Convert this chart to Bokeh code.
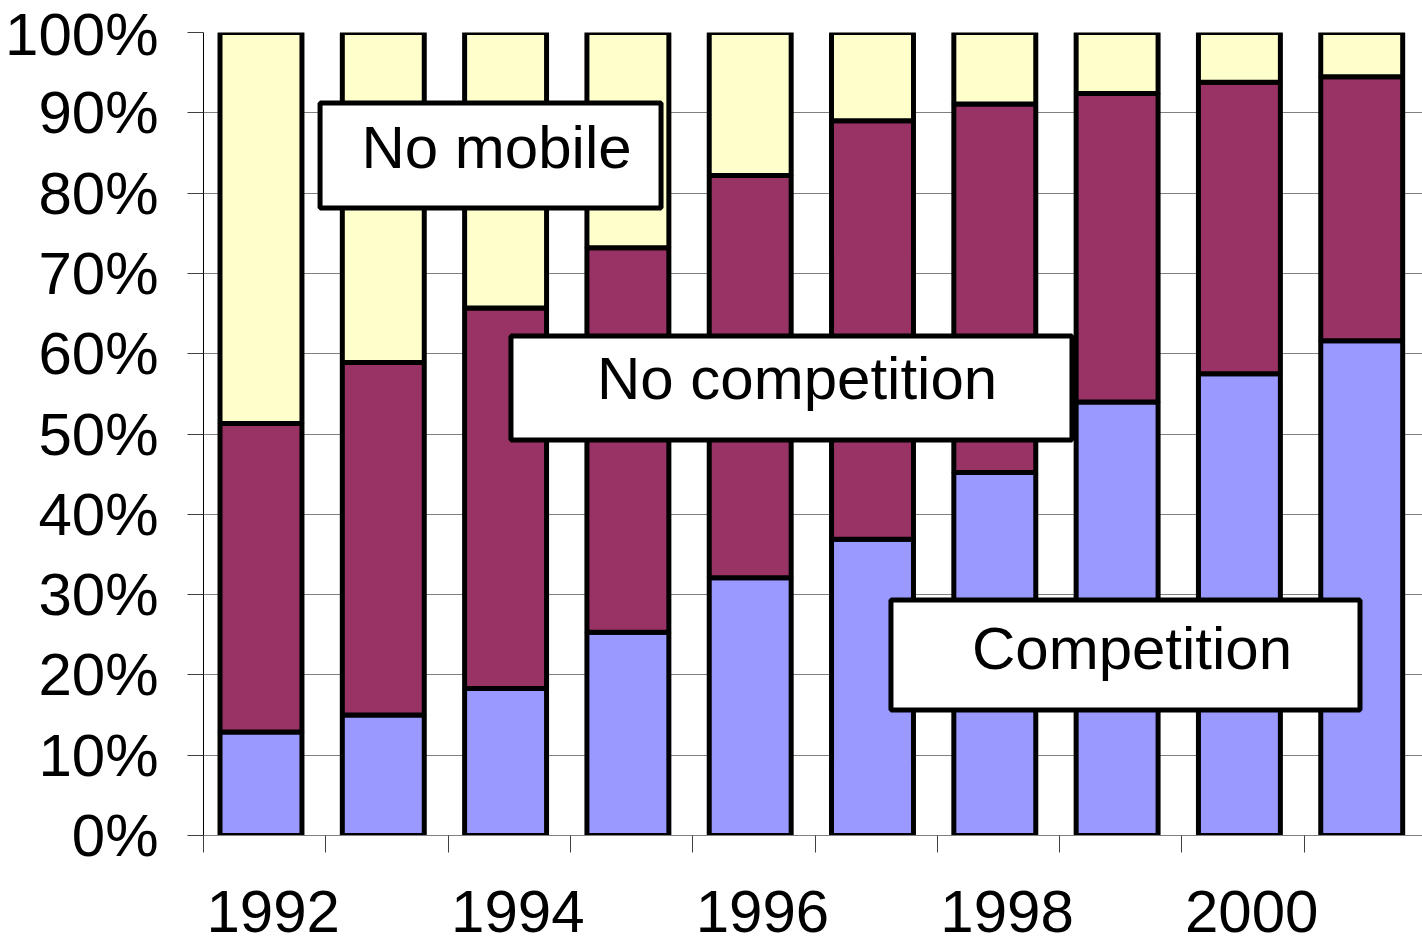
from bokeh.plotting import figure
from bokeh.models import (Range1d, FixedTicker, CustomJSTickFormatter, PrintfTickFormatter,
                          BoxAnnotation, Label, ColumnDataSource)
from bokeh.transform import dodge
from bokeh.embed import file_html
from bokeh.resources import INLINE

# ---- data ----
years = ["1992", "1993", "1994", "1995", "1996", "1997", "1998", "1999", "2000", "2001"]
competition = [12.9, 15.0, 18.3, 25.3, 32.1, 36.9, 45.2, 54.0, 57.5, 61.6]
no_competition = [38.4, 43.9, 47.4, 47.9, 50.1, 52.1, 45.9, 38.4, 36.3, 32.9]
no_mobile = [48.7, 41.1, 34.3, 26.8, 17.8, 11.0, 8.9, 7.6, 6.2, 5.5]
series = ["Competition", "No competition", "No mobile"]
colors = ["#9999FF", "#993366", "#FFFFCC"]
y_ticks = [0, 10, 20, 30, 40, 50, 60, 70, 80, 90, 100]
x_labels = ["1992", "1994", "1996", "1998", "2000"]

FONT = "Liberation Sans"
BAR_SHIFT = -0.03    # bars sit slightly left of the category centre
LABEL_SHIFT = 0.07   # year labels sit slightly right of the category centre

x = [i + 0.5 for i in range(len(years))]
source = ColumnDataSource(data={"x": x, "Competition": competition,
                                "No competition": no_competition, "No mobile": no_mobile})

p = figure(width=1422, height=948, output_backend="svg", toolbar_location=None,
           x_range=Range1d(0, 9.967), y_range=Range1d(0, 100),
           min_border_left=203, min_border_top=32, min_border_right=0, min_border_bottom=113)
p.outline_line_color = None
p.background_fill_color = "white"
p.border_fill_color = "white"

p.vbar_stack(series, x=dodge("x", BAR_SHIFT, range=p.x_range), width=0.67, source=source,
             fill_color=colors, line_color="black", line_width=5)

# x axis: boundary ticks as minor ticks, labels at even years
p.xaxis.ticker = FixedTicker(ticks=[x[i] + LABEL_SHIFT for i, y in enumerate(years) if y in x_labels],
                             minor_ticks=list(range(len(years) + 1)))
p.xaxis.formatter = CustomJSTickFormatter(args=dict(labels=years),
                                          code="return labels[Math.floor(tick)];")
p.xaxis.major_tick_line_color = None
p.xaxis.major_tick_out = 0
p.xaxis.major_tick_in = 0
p.xaxis.minor_tick_out = 17
p.xaxis.minor_tick_in = 0
p.xaxis.minor_tick_line_color = "#404040"
p.xaxis.axis_line_color = "#808080"
p.xaxis.major_label_text_font = FONT
p.xaxis.major_label_text_font_size = "60px"
p.xaxis.major_label_text_color = "black"
p.xaxis.major_label_standoff = 38

# y axis
p.yaxis.ticker = FixedTicker(ticks=y_ticks)
p.yaxis.formatter = PrintfTickFormatter(format="%d%%")
p.yaxis.major_tick_out = 16
p.yaxis.major_tick_in = 0
p.yaxis.minor_tick_line_color = None
p.yaxis.major_tick_line_color = "#404040"
p.yaxis.axis_line_color = "black"
p.yaxis.major_label_text_font = FONT
p.yaxis.major_label_text_font_size = "60px"
p.yaxis.major_label_text_color = "black"
p.yaxis.major_label_standoff = 29

p.xgrid.grid_line_color = None
p.ygrid.ticker = FixedTicker(ticks=y_ticks)
p.ygrid.grid_line_color = "#808080"
p.ygrid.grid_line_width = 1

# annotation boxes
boxes = [
    ("No mobile", 0.953, 3.741, 91.22, 78.14, 2.396, 85.68),
    ("No competition", 2.514, 7.101, 62.20, 49.25, 4.853, 56.91),
    ("Competition", 5.621, 9.456, 29.33, 15.63, 7.592, 23.29),
]
for text, l, r, t, b, tx, ty in boxes:
    p.add_layout(BoxAnnotation(left=l, right=r, top=t, bottom=b, fill_color="white",
                               fill_alpha=1.0, line_color="black", line_width=5, line_alpha=1.0))
    p.add_layout(Label(x=tx, y=ty, text=text, text_align="center", text_baseline="alphabetic",
                       text_font=FONT, text_font_size="60px", text_color="black"))

open("out.html", "w").write(file_html(p, INLINE))
